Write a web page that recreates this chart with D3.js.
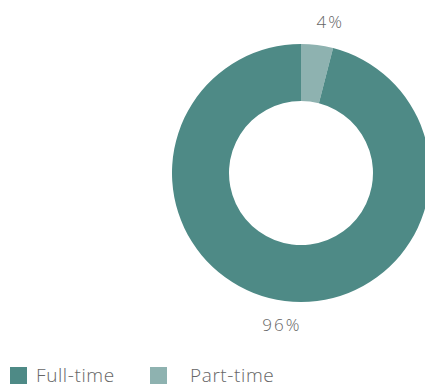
<!DOCTYPE html>
<html>
<head>
<meta charset="utf-8">
<script src="https://cdn.jsdelivr.net/npm/d3@7"></script>
<style>
  html, body { margin: 0; padding: 0; background: #fff; overflow: hidden; }
  svg { display: block; }
  text { font-family: "Open Sans", Lato, sans-serif; font-weight: 300; fill: #666; }
</style>
</head>
<body>
<svg id="chart" width="425" height="385"></svg>
<script>
// Employment type split
const categories = ["Part-time", "Full-time"];
const values = [4, 96];
const labels = ["4%", "96%"];
const legendOrder = ["Full-time", "Part-time"];
const colors = { "Full-time": "#4e8a86", "Part-time": "#8eb2b0" };

const svg = d3.select("#chart");
const cx = 301, cy = 173;
const outerR = 129, innerR = 72, labelR = 153;

const pie = d3.pie().sort(null).value(d => d.value);
const data = pie(categories.map((c, i) => ({ name: c, value: values[i], label: labels[i] })));

const arc = d3.arc().innerRadius(innerR).outerRadius(outerR);
const labelArc = d3.arc().innerRadius(labelR).outerRadius(labelR);

const g = svg.append("g").attr("transform", `translate(${cx},${cy})`);

g.selectAll("path")
  .data(data)
  .join("path")
  .attr("d", arc)
  .attr("fill", d => colors[d.data.name]);

// Value labels outside the ring; right-hand labels sit slightly further out
g.selectAll("text.val")
  .data(data)
  .join("text")
  .attr("class", "val")
  .attr("transform", d => `translate(${labelArc.centroid(d)})`)
  .attr("dx", d => ((d.startAngle + d.endAngle) / 2 < Math.PI ? 10 : 0))
  .attr("text-anchor", "middle")
  .attr("dominant-baseline", "central")
  .attr("font-size", 17)
  .attr("letter-spacing", 2)
  .text(d => d.data.label);

// Legend
const legendX = d3.scalePoint().domain(legendOrder).range([10, 150]);
const legend = svg.append("g").attr("transform", "translate(0,367)");
const item = legend.selectAll("g")
  .data(legendOrder)
  .join("g")
  .attr("transform", d => `translate(${legendX(d)},0)`);
item.append("rect")
  .attr("width", 17).attr("height", 17)
  .attr("fill", d => colors[d]);
item.append("text")
  .attr("x", (d, i) => i === 0 ? 26 : 40)
  .attr("y", 15)
  .attr("font-size", 19)
  .attr("letter-spacing", 0.6)
  .text(d => d);
</script>
</body>
</html>
